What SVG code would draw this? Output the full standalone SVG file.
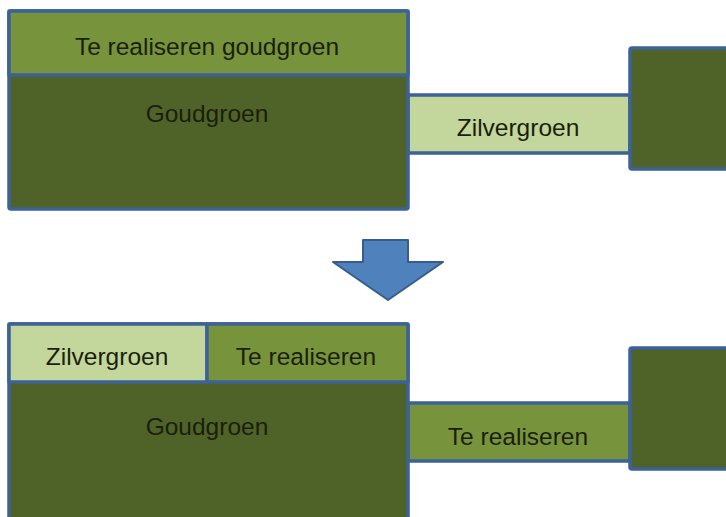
<svg xmlns="http://www.w3.org/2000/svg" width="726" height="517" viewBox="0 0 726 517">
<style>
.b{stroke:#3d6298;stroke-width:3.5;stroke-linejoin:round}
.dk{fill:#4f6228}
.md{fill:#77933c}
.lt{fill:#c3d69b}
text{font-family:"Liberation Sans",Arial,sans-serif;font-size:24.5px;fill:#1a1f0c;text-anchor:middle}
</style>
<rect width="726" height="517" fill="#ffffff"/>
<g id="connectors">
<rect id="conn-top" class="b lt" x="408" y="95" width="222" height="58"/>
<text x="518" y="136">Zilvergroen</text>
<rect id="conn-bottom" class="b md" x="408" y="403" width="222" height="58"/>
<text x="518" y="445">Te realiseren</text>
</g>
<g id="top-box">
<rect class="b dk" x="9" y="11" width="399" height="198" rx="2"/>
<rect class="b md" x="9" y="11" width="399" height="64"/>
<text x="207" y="55">Te realiseren goudgroen</text>
<text x="207" y="122">Goudgroen</text>
</g>
<g id="top-right">
<rect class="b dk" x="630" y="48" width="110" height="121" rx="2"/>
</g>
<g id="arrow">
<path d="M363,240 H408 V262 H443 L388,300 L333,262 H363 Z" fill="#4f81bd" stroke="#385d8a" stroke-width="2" stroke-linejoin="round"/>
</g>
<g id="bottom-box">
<rect class="b dk" x="9" y="324" width="399" height="210" rx="2"/>
<rect class="b lt" x="9" y="324" width="198" height="58"/>
<rect class="b md" x="207" y="324" width="201" height="58"/>
<text x="107" y="365">Zilvergroen</text>
<text x="306" y="365">Te realiseren</text>
<text x="207" y="435">Goudgroen</text>
</g>
<g id="bottom-right">
<rect class="b dk" x="630" y="348" width="110" height="121" rx="2"/>
</g>
</svg>
